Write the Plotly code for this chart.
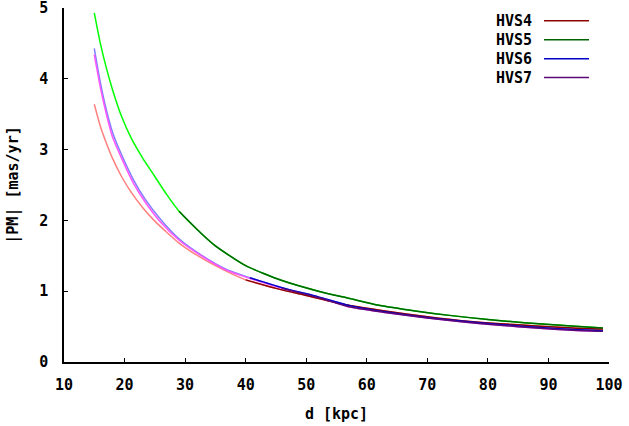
import plotly.graph_objects as go

# ---- data ----
hvs4_x = [15, 16, 17, 18, 19.5, 21, 23, 25, 27, 29, 31, 35, 40, 45, 50, 57, 63, 70, 76, 82, 88, 94, 99]
hvs4_y = [3.64, 3.33, 3.09, 2.88, 2.62, 2.41, 2.18, 1.99, 1.83, 1.68, 1.56, 1.36, 1.16, 1.04, 0.94, 0.80, 0.72, 0.64, 0.58, 0.54, 0.51, 0.48, 0.465]

hvs5_x = [15, 16, 17, 18, 19.5, 21, 23, 25, 27, 29, 32.5, 35, 40, 46, 52, 57, 62, 68, 74, 80, 86, 92, 97, 99]
hvs5_y = [4.93, 4.50, 4.15, 3.85, 3.47, 3.18, 2.88, 2.62, 2.36, 2.13, 1.83, 1.64, 1.36, 1.15, 1.00, 0.90, 0.80, 0.72, 0.655, 0.60, 0.555, 0.52, 0.49, 0.48]

hvs6_x = [15, 16, 17, 18, 19.5, 21.5, 23.4, 26, 29, 32.5, 37, 40.7, 46, 52, 57, 63, 70, 76, 82, 88, 94, 99]
hvs6_y = [4.43, 3.95, 3.56, 3.25, 2.93, 2.57, 2.30, 2.01, 1.74, 1.52, 1.30, 1.19, 1.05, 0.92, 0.80, 0.71, 0.63, 0.575, 0.53, 0.49, 0.46, 0.44]

hvs7_x = [15, 16, 17, 18, 19.5, 21.5, 23.4, 26, 29, 32.5, 37, 40.7, 46, 52, 57, 63, 70, 76, 82, 88, 94, 99]
hvs7_y = [4.34, 3.88, 3.50, 3.18, 2.88, 2.52, 2.26, 1.97, 1.72, 1.51, 1.29, 1.18, 1.04, 0.91, 0.78, 0.70, 0.62, 0.565, 0.52, 0.48, 0.45, 0.435]

names = ["HVS4", "HVS5", "HVS6", "HVS7"]
xs = [hvs4_x, hvs5_x, hvs6_x, hvs7_x]
ys = [hvs4_y, hvs5_y, hvs6_y, hvs7_y]
dark_from = [40, 28, 38, 42]   # x where the dark shade starts

x_ticks = [10, 20, 30, 40, 50, 60, 70, 80, 90, 100]
y_ticks = [0, 1, 2, 3, 4, 5]

light_cols = ["#ff7f7f", "#00ff00", "#8080ff", "#ff55ff"]
dark_cols = ["#8b0000", "#006400", "#0000c8", "#5a0a78"]

FONT = "DejaVu Sans Mono"
FS = 15

fig = go.Figure()
for n, x, y, lc in zip(names, xs, ys, light_cols):
    fig.add_trace(go.Scatter(x=x, y=y, mode="lines", name=n, showlegend=False,
                             line=dict(color=lc, width=1.5, shape="spline", smoothing=0.6)))
for n, x, y, dc, d0 in zip(names, xs, ys, dark_cols, dark_from):
    sx = [a for a in x if a >= d0]
    sy = [b for a, b in zip(x, y) if a >= d0]
    fig.add_trace(go.Scatter(x=sx, y=sy, mode="lines", name=n, showlegend=False,
                             line=dict(color=dc, width=1.5, shape="spline", smoothing=0.6)))

# legend drawn gnuplot-style: text on the left, line sample on the right
L, R, T, B = 64, 20, 8, 63.5
W, H = 629, 426
pw, ph = W - L - R, H - T - B
def px(xp):
    return (xp - L) / pw
def py(yp):
    return (H - B - yp) / ph

leg_y = [20.7, 39.7, 58.7, 77.7]
for n, dc, yy in zip(names, dark_cols, leg_y):
    fig.add_annotation(x=px(534), y=py(yy), xref="paper", yref="paper", text=n,
                       showarrow=False, xanchor="right", yanchor="middle",
                       font=dict(family=FONT, size=FS, color="#000000", weight="bold"))
    fig.add_shape(type="line", xref="paper", yref="paper", x0=px(544), x1=px(589),
                  y0=py(yy), y1=py(yy), line=dict(color=dc, width=1.5))

axis_common = dict(showline=True, linecolor="#000000", linewidth=1.5, ticks="inside",
                   ticklen=4, tickcolor="#000000", tickwidth=1, showgrid=False, zeroline=False,
                   tickfont=dict(family=FONT, size=FS, color="#000000", weight="bold"),
                   mirror=False, automargin=False, ticklabeloverflow="allow")

fig.update_layout(
    width=W, height=H,
    margin=dict(l=L, r=R, t=T, b=B),
    paper_bgcolor="white", plot_bgcolor="white",
    xaxis=dict(range=[10, 100], tickvals=x_ticks, ticktext=[str(v) for v in x_ticks],
               title=dict(text="d [kpc]", standoff=16,
                          font=dict(family=FONT, size=FS, color="#000000", weight="bold")),
               ticklabelstandoff=8, **axis_common),
    yaxis=dict(range=[0, 5], tickvals=y_ticks, ticktext=[str(v) for v in y_ticks],
               title=dict(text="|PM| [mas/yr]", standoff=17,
                          font=dict(family=FONT, size=FS, color="#000000", weight="bold")),
               ticklabelstandoff=11, **axis_common),
)

fig.write_html("out.html")
